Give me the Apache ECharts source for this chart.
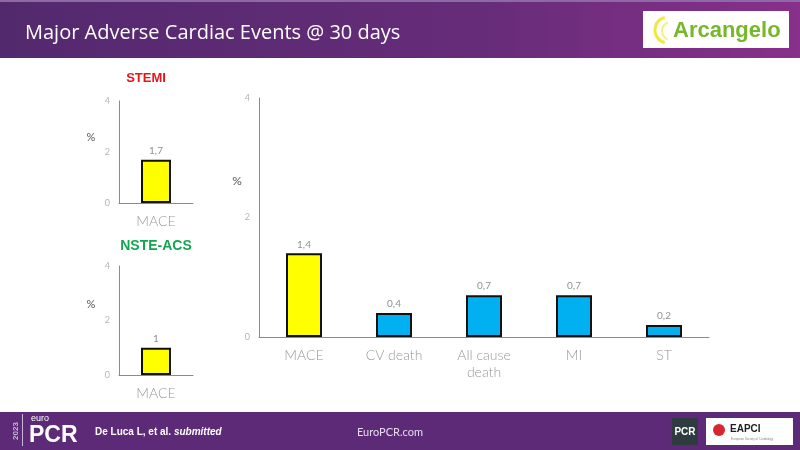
<!DOCTYPE html>
<html><head><meta charset="utf-8">
<script src="https://cdn.jsdelivr.net/npm/echarts@6/dist/echarts.min.js"></script>
<style>html,body{margin:0;padding:0;background:#fff}#c{width:800px;height:450px}</style>
</head><body><div id="c"></div>
<script>
const mainCategories = ['MACE', 'CV death', 'All cause\ndeath', 'MI', 'ST'];
const mainValues = [1.4, 0.4, 0.7, 0.7, 0.2];
const stemiCategories = ['MACE'];
const stemiValues = [1.7];
const nsteCategories = ['MACE'];
const nsteValues = [1];
const yTicks = [0, 2, 4];

const YELLOW = '#ffff00', BLUE = '#00b0f0';
const FONT = 'Lato';
const fmt = p => String(p.value).replace('.', ',');

function xAx(idx, cats, size) {
  return {
    type: 'category', gridIndex: idx, data: cats,
    axisTick: {show: false},
    axisLine: {lineStyle: {color: '#8a8a8a', width: 1}},
    axisLabel: {color: '#999999', fontSize: size, fontFamily: FONT, fontWeight: 300, margin: 10, lineHeight: 17}
  };
}
function yAx(idx) {
  return {
    type: 'value', gridIndex: idx, min: 0, max: 4, interval: 2,
    axisLine: {show: true, lineStyle: {color: '#8a8a8a', width: 1}},
    axisTick: {show: false}, splitLine: {show: false},
    axisLabel: {color: '#b5b5b5', fontSize: 9, fontFamily: FONT, margin: 9,
      formatter: v => yTicks.includes(v) ? String(v) : ''}
  };
}
function bar(idx, vals, colorFn, w) {
  return {
    type: 'bar', xAxisIndex: idx, yAxisIndex: idx, barWidth: w,
    data: vals.map((v, i) => ({value: v, itemStyle: {color: colorFn(i)}})),
    itemStyle: {borderColor: '#111', borderWidth: 2},
    label: {show: true, position: 'top', color: '#919191', fontSize: 10, fontFamily: FONT, distance: 4, formatter: fmt},
    animation: false
  };
}

const chart = echarts.init(document.getElementById('c'), null, {renderer: 'canvas'});
chart.setOption({
  animation: false,
  grid: [
    {left: 259, top: 98, width: 450, height: 239},
    {left: 119, top: 101, width: 74, height: 102},
    {left: 119, top: 266, width: 74, height: 109}
  ],
  xAxis: [xAx(0, mainCategories, 14), xAx(1, stemiCategories, 14), xAx(2, nsteCategories, 14)],
  yAxis: [yAx(0), yAx(1), yAx(2)],
  series: [
    bar(0, mainValues, i => i === 0 ? YELLOW : BLUE, 36),
    bar(1, stemiValues, () => YELLOW, 30),
    bar(2, nsteValues, () => YELLOW, 30)
  ],
  graphic: [
    {type: 'rect', shape: {x: 0, y: 0, width: 800, height: 58}, silent: true, z: -1,
      style: {fill: new echarts.graphic.LinearGradient(0, 0, 1, 0, [{offset: 0, color: '#53296e'}, {offset: 0.6, color: '#662c79'}, {offset: 1, color: '#88308b'}])}},
    {type: 'rect', shape: {x: 0, y: 0, width: 800, height: 2}, style: {fill: '#8d6aa3'}},
    {type: 'text', x: 25, y: 33, style: {text: 'Major Adverse Cardiac Events @ 30 days', fill: '#fff', font: '20px "Open Sans"', textVerticalAlign: 'middle'}},
    {type: 'rect', shape: {x: 643, y: 11, width: 146, height: 37}, style: {fill: '#fff'}},
    {type: 'arc', shape: {cx: 668, cy: 30, r: 13, startAngle: Math.PI * 0.58, endAngle: Math.PI * 1.42}, style: {stroke: '#f2e640', lineWidth: 3, fill: null}},
    {type: 'arc', shape: {cx: 671, cy: 31, r: 9, startAngle: Math.PI * 0.62, endAngle: Math.PI * 1.38}, style: {stroke: '#f7ef7a', lineWidth: 2, fill: null}},
    {type: 'text', x: 673, y: 31, style: {text: 'Arcangelo', fill: '#77b82a', font: 'bold 22px "Liberation Sans"', textVerticalAlign: 'middle'}},

    {type: 'text', x: 146, y: 78, style: {text: 'STEMI', fill: '#e8141c', font: 'bold 13px "Liberation Sans"', textAlign: 'center', textVerticalAlign: 'middle'}},
    {type: 'text', x: 156, y: 246, style: {text: 'NSTE-ACS', fill: '#13a651', font: 'bold 14px "Liberation Sans"', textAlign: 'center', textVerticalAlign: 'middle'}},
    {type: 'text', x: 91, y: 137, style: {text: '%', fill: '#555', font: '11px Lato', textAlign: 'center', textVerticalAlign: 'middle'}},
    {type: 'text', x: 91, y: 304, style: {text: '%', fill: '#555', font: '11px Lato', textAlign: 'center', textVerticalAlign: 'middle'}},
    {type: 'text', x: 237, y: 181, style: {text: '%', fill: '#555', font: '12px Lato', textAlign: 'center', textVerticalAlign: 'middle'}},

    {type: 'rect', shape: {x: 0, y: 412, width: 800, height: 38}, style: {fill: '#5c2a77'}},
    {type: 'text', x: 16, y: 431, rotation: Math.PI / 2, style: {text: '2023', fill: '#c9b6d6', font: 'bold 8px "Liberation Sans"', textAlign: 'center', textVerticalAlign: 'middle'}},
    {type: 'rect', shape: {x: 22, y: 414, width: 1, height: 32}, style: {fill: '#c9b6d6'}},
    {type: 'text', x: 31, y: 419, style: {text: 'euro', fill: '#fff', font: '9px "Liberation Sans"', textVerticalAlign: 'middle'}},
    {type: 'text', x: 29, y: 436, style: {text: 'PCR', fill: '#fff', font: 'bold 23px "Liberation Sans"', textVerticalAlign: 'middle'}},
    {type: 'text', x: 95, y: 432, style: {text: '{b|De Luca L, et al. }{i|submitted}', fill: '#fff', textVerticalAlign: 'middle',
      rich: {b: {font: 'bold 10px "Liberation Sans"', fill: '#fff'}, i: {font: 'italic bold 10px "Liberation Sans"', fill: '#fff'}}}},
    {type: 'text', x: 357, y: 432, style: {text: 'EuroPCR.com', fill: '#e6dcef', font: '11px Lato', textVerticalAlign: 'middle'}},
    {type: 'rect', shape: {x: 672, y: 418, width: 26, height: 27}, style: {fill: '#2e3b3f'}},
    {type: 'text', x: 685, y: 432, style: {text: 'PCR', fill: '#fff', font: 'bold 10px "Liberation Sans"', textAlign: 'center', textVerticalAlign: 'middle'}},
    {type: 'rect', shape: {x: 706, y: 418, width: 87, height: 27}, style: {fill: '#fff'}},
    {type: 'circle', shape: {cx: 719, cy: 430, r: 6}, style: {fill: '#d8262e'}},
    {type: 'text', x: 730, y: 429, style: {text: 'EAPCI', fill: '#222', font: 'bold 10px "Liberation Sans"', textVerticalAlign: 'middle'}},
    {type: 'text', x: 731, y: 439, style: {text: 'European Society of Cardiology', fill: '#888', font: '3px "Liberation Sans"', textVerticalAlign: 'middle'}}
  ]
});
</script></body></html>
